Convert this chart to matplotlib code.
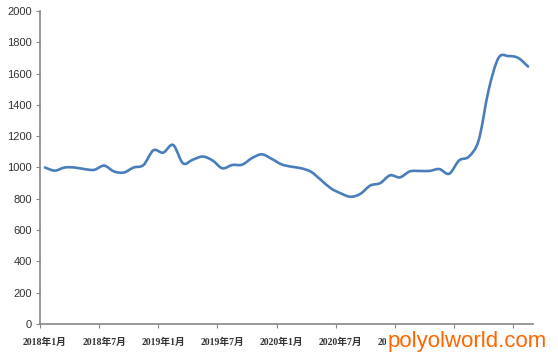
import numpy as np
import matplotlib
matplotlib.use('Agg')
import matplotlib.pyplot as plt
from matplotlib.path import Path
from matplotlib.patches import PathPatch

# monthly price, 2018-01 .. 2022-02
months = [f"{y}年{m}月" for y in range(2018, 2023) for m in range(1, 13)][:50]
prices = [1000, 980, 1000, 1000, 990, 985, 1012, 975, 968, 1000,
          1016, 1110, 1095, 1144, 1027, 1050, 1070, 1045, 995, 1016,
          1018, 1060, 1084, 1055, 1020, 1005, 995, 972, 920, 867,
          835, 813, 832, 885, 900, 950, 937, 975, 978, 978,
          990, 960, 1045, 1070, 1176, 1495, 1700, 1712, 1700, 1645]
yticks = list(range(0, 2001, 200))
# labels under the watermark are hidden in the original
shown_labels = [months[i] for i in range(0, 37, 6)]

line_color = '#4a7ebb'
axis_color = '#868686'

fig = plt.figure(figsize=(5.58, 3.64), dpi=100)
ax = fig.add_axes([40 / 558, 40 / 364, 493 / 558, 313 / 364])

# smooth line like excel (bezier through the points)
x = np.arange(len(prices), dtype=float)
y = np.array(prices, dtype=float)
verts = [(x[0], y[0])]
codes = [Path.MOVETO]
n = len(x)
for i in range(n - 1):
    p0 = np.array([x[max(i - 1, 0)], y[max(i - 1, 0)]])
    p1 = np.array([x[i], y[i]])
    p2 = np.array([x[i + 1], y[i + 1]])
    p3 = np.array([x[min(i + 2, n - 1)], y[min(i + 2, n - 1)]])
    c1 = p1 + (p2 - p0) / 6
    c2 = p2 - (p3 - p1) / 6
    verts += [tuple(c1), tuple(c2), tuple(p2)]
    codes += [Path.CURVE4] * 3
ax.add_patch(PathPatch(Path(verts, codes), fill=False, edgecolor=line_color,
                       lw=1.9, capstyle='round', joinstyle='round'))

ax.set_xlim(-0.5, len(prices) - 0.5)
ax.set_ylim(0, 2000)

for s in ['top', 'right']:
    ax.spines[s].set_visible(False)
for s in ['left', 'bottom']:
    ax.spines[s].set_color(axis_color)
    ax.spines[s].set_linewidth(1.2)

ax.set_yticks(yticks)
ax.tick_params(axis='y', direction='out', length=3, color=axis_color,
               labelsize=8, pad=3, labelcolor='#333333')
for lab in ax.get_yticklabels():
    lab.set_family('Liberation Sans')

# tick marks between categories, labels centred on categories
ax.set_xticks([-0.5] + list(np.arange(5.5, len(prices), 6)))
ax.set_xticklabels([''] * len(ax.get_xticks()))
ax.tick_params(axis='x', which='major', direction='out', length=3, color=axis_color)
ax.set_xticks(np.arange(0, 37, 6), minor=True)
ax.set_xticklabels(shown_labels, minor=True,
                   family=['Liberation Serif', 'Noto Sans CJK SC'],
                   fontweight='bold', fontsize=7, color='#333333')
ax.tick_params(axis='x', which='minor', length=0, pad=10)

fig.text(467 / 558, 1 - 342 / 364, 'polyolworld.com', color='#ff6600',
         fontsize=16, family='Liberation Sans', ha='center', va='center',
         bbox=dict(facecolor='white', edgecolor='none', pad=1))

fig.savefig('out.png', dpi=100)
